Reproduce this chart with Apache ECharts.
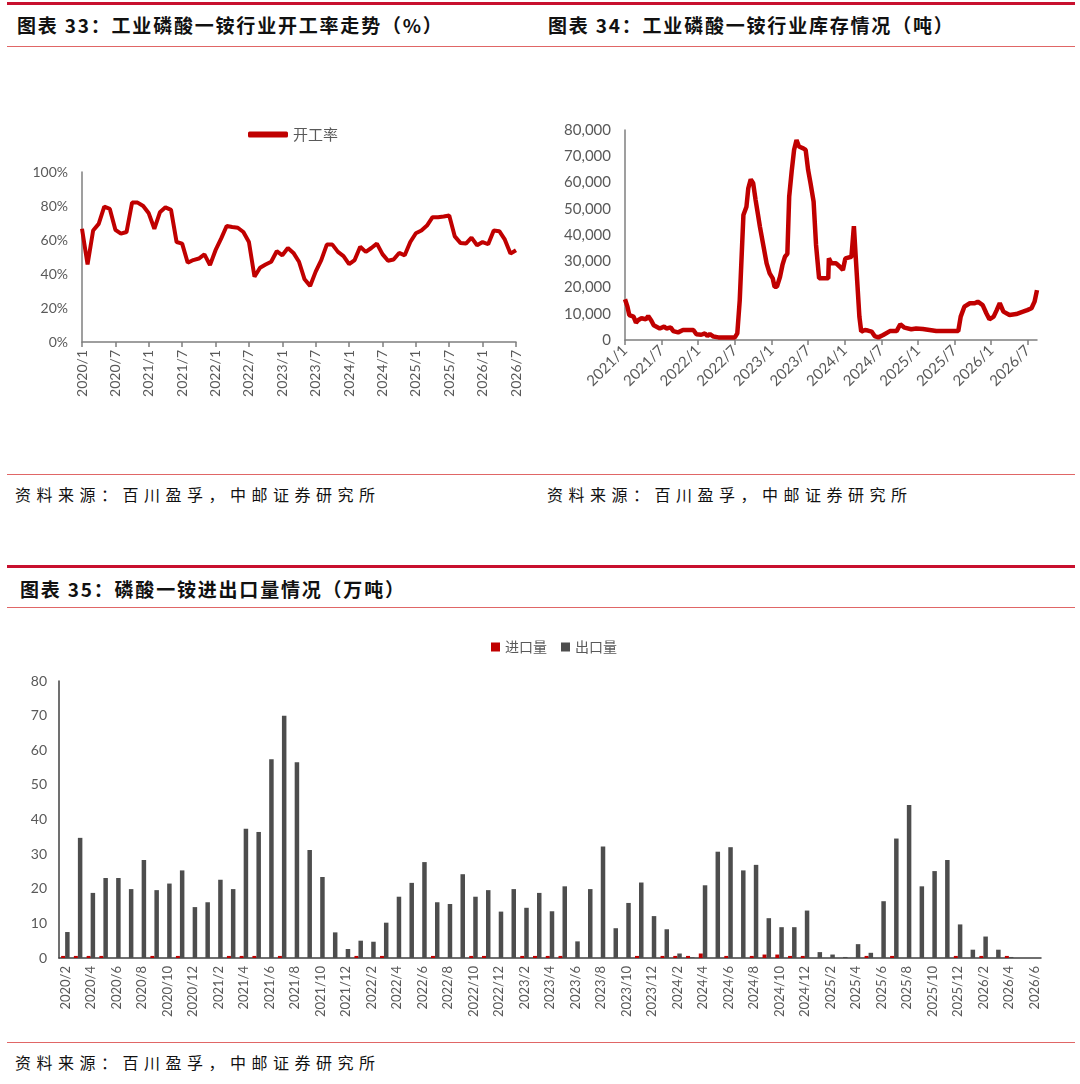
<!DOCTYPE html>
<html>
<head>
<meta charset="utf-8">
<script src="https://cdn.jsdelivr.net/npm/echarts@6/dist/echarts.min.js"></script>
<style>
  html, body { margin: 0; padding: 0; background: #fff; }
  body { width: 1080px; height: 1084px; position: relative; overflow: hidden; }
  .line { position: absolute; left: 7px; width: 1068px; background: #d23a3a; }
  .thick { height: 3px; background: #c8102e; }
  .thin { height: 1px; background: #e06666; }
  .title { position: absolute; font-family: "Noto Sans CJK SC", sans-serif; font-weight: bold;
           font-size: 19px; letter-spacing: 1.8px; color: #111; white-space: nowrap; }
  .src { position: absolute; font-family: "Noto Sans CJK SC", sans-serif; font-size: 16px;
         letter-spacing: 5.5px; color: #111; white-space: nowrap; }
  .chart { position: absolute; }
</style>
</head>
<body>
<div class="line thick" style="top:2px"></div>
<div class="title" style="left:17px; top:11px">图表 33：工业磷酸一铵行业开工率走势（%）</div>
<div class="title" style="left:548px; top:11px">图表 34：工业磷酸一铵行业库存情况（吨）</div>
<div class="line thin" style="top:46px"></div>

<div id="rate" class="chart" style="left:0; top:100px; width:540px; height:340px"></div>
<div id="stock" class="chart" style="left:540px; top:100px; width:540px; height:340px"></div>

<div class="line thin" style="top:474px"></div>
<div class="src" style="left:15px; top:482px">资料来源：百川盈孚，中邮证券研究所</div>
<div class="src" style="left:547px; top:482px">资料来源：百川盈孚，中邮证券研究所</div>

<div class="line thick" style="top:565px"></div>
<div class="title" style="left:20px; top:575px">图表 35：磷酸一铵进出口量情况（万吨）</div>
<div class="line thin" style="top:607px"></div>

<div id="trade" class="chart" style="left:0; top:615px; width:1080px; height:425px"></div>

<div class="line thin" style="top:1042px"></div>
<div class="src" style="left:15px; top:1050px">资料来源：百川盈孚，中邮证券研究所</div>

<script>
// ---- data ----
// 开工率, monthly 2020/1 .. 2026/7 (%)
const rateMonths = [];
for (let y = 2020; y <= 2026; y++) for (let m = 1; m <= 12; m++) if (!(y === 2026 && m > 7)) rateMonths.push(y + '/' + m);
const rateValues = [
  66.6, 45.6, 65.6, 69.5, 79.6, 78.3, 66, 63.7, 64.7, 82, 82, 80,
  75.7, 66.6, 76.3, 79.2, 77.7, 58.8, 57.9, 46.6, 48.2, 49.1, 51.5, 45.2,
  54, 60.8, 68.2, 67.6, 67.2, 64.7, 58.8, 38.4, 43.7, 45.6, 47.2, 53.4,
  51, 55.3, 52.4, 47.2, 36.9, 33, 41.4, 48.2, 57.3, 57.3, 53, 50.5,
  45.8, 48.2, 56, 53, 55.3, 57.9, 51.7, 47.8, 48.5, 52.4, 51, 58.8,
  64, 65.6, 68.5, 73.4, 73.4, 73.8, 74.4, 62.1, 58.3, 57.9, 61.4, 56.9,
  58.8, 57.5, 65.6, 65.2, 60.2, 52, 54
];

// 库存, month offset since 2021/1 (fractional) and tons
const stockMonth = [
  0, 0.4, 0.7, 1.4, 1.8, 2.2, 2.7, 3.4, 3.8, 4.3, 4.7, 5.7, 6.4, 6.8, 7.5, 7.9, 8.7, 9.5, 10.4, 11.2,
  11.7, 12.5, 13.1, 13.5, 13.9, 14.5, 15.3, 16.1, 18, 18.4, 18.8, 19.4, 19.9, 20.2, 20.6, 21, 21.4, 21.8, 22.1, 22.4,
  22.7, 23.2, 23.7, 24.2, 24.5, 24.9, 25.4, 25.8, 26.2, 26.6, 26.9, 27.3, 27.7, 28.1, 28.5, 29.2, 29.6, 30, 30.4, 30.9,
  31.3, 31.6, 31.8, 33.3, 33.4, 33.8, 34.6, 35.2, 35.7, 36.1, 37.1, 37.5, 37.8, 38.4, 38.7, 39.3, 39.8, 40.4, 40.9, 41.5,
  42.3, 43.4, 44.5, 45.1, 45.8, 46.9, 47.7, 48.8, 49.9, 51, 54.6, 55, 55.6, 56.5, 57.3, 57.8, 58.6, 59.2, 59.7, 60.4,
  60.9, 61.4, 62, 63, 64.1, 65.2, 65.9, 66.6, 67.1, 67.5
];
const stockValue = [
  15500, 12700, 9500, 8900, 6600, 7600, 8300, 7900, 9100, 7400, 5600, 4400, 5100, 4400, 4800, 3400, 2900, 3800, 3800, 3800,
  2200, 2000, 2500, 1500, 2300, 1300, 1000, 1000, 1000, 2500, 15200, 47600, 50800, 57800, 61200, 59700, 53300, 47600, 43200, 43200,
  35600, 29200, 25400, 23500, 20300, 20300, 24100, 28600, 31700, 32800, 54600, 64100, 72400, 76200, 73700, 73000, 72400, 64800, 59700, 52700,
  36200, 35800, 23500, 23500, 31100, 29200, 29200, 27900, 26700, 31100, 31700, 43400, 31700, 8900, 3200, 3800, 3600, 3200, 1500, 1000,
  1900, 3400, 3400, 6000, 4700, 4100, 4400, 4200, 3800, 3400, 3400, 8900, 12700, 14000, 14000, 14600, 13300, 10200, 7900, 8900,
  11400, 14000, 10800, 9500, 9900, 10800, 11400, 12100, 14600, 19000
];

// 进出口量, monthly 2020/2 .. 2026/6 (万吨)
const tradeMonths = [];
for (let y = 2020; y <= 2026; y++) for (let m = 1; m <= 12; m++) if (!(y === 2020 && m < 2) && !(y === 2026 && m > 6)) tradeMonths.push(y + '/' + m);
const exportVol = [
  7.5, 34.7, 18.8, 23.1, 23.1, 19.9, 28.3, 19.6, 21.5, 25.3,
  14.7, 16.1, 22.6, 19.9, 37.3, 36.4, 57.4, 70, 56.5, 31.2,
  23.4, 7.4, 2.6, 5, 4.7, 10.2, 17.7, 21.7, 27.7, 16.1,
  15.6, 24.2, 17.7, 19.6, 13.4, 19.9, 14.5, 18.8, 13.5, 20.7,
  4.8, 19.9, 32.2, 8.6, 15.9, 21.8, 12.1, 8.3, 1.3, 0.2,
  21, 30.7, 32, 25.3, 26.9, 11.5, 8.9, 8.9, 13.7, 1.7,
  1, 0.3, 4, 1.5, 16.4, 34.5, 44.2, 20.7, 25.1, 28.3,
  9.7, 2.4, 6.2, 2.4, 0.3, 0, 0
];
const importVol = [
  0.6, 0.6, 0.6, 0.6, 0, 0, 0, 0.6, 0, 0.6,
  0, 0, 0, 0.6, 0.6, 0.6, 0, 0.6, 0, 0,
  0, 0, 0, 0.6, 0, 0.6, 0, 0, 0, 0.6,
  0, 0, 0.6, 0.6, 0, 0, 0.6, 0.6, 0.6, 0.6,
  0, 0, 0, 0, 0, 0.6, 0, 0.6, 0.6, 0.6,
  1.3, 0, 0.6, 0, 0.6, 1, 1, 0.6, 0.6, 0,
  0, 0, 0, 0.6, 0, 0.6, 0, 0, 0, 0,
  0.6, 0, 0.6, 0, 0.6, 0, 0
];

// ---- shared styles ----
const GRAY = '#595959';
const NUM_FONT = 'Lato, "Noto Sans CJK SC", sans-serif';
const CJK_FONT = '"Noto Sans CJK SC", sans-serif';
const axisLine = { lineStyle: { color: '#7f7f7f', width: 1.5 } };
const tickStyle = { lineStyle: { color: '#7f7f7f', width: 1.5 }, length: 5 };
const numLabel = { color: GRAY, fontFamily: NUM_FONT, fontSize: 14 };

// ---- 开工率 ----
echarts.init(document.getElementById('rate')).setOption({
  animation: false,
  legend: {
    left: 243, top: 22, icon: 'roundRect', itemWidth: 40, itemHeight: 6, itemGap: 4,
    textStyle: { color: GRAY, fontFamily: CJK_FONT, fontSize: 15 }
  },
  grid: { left: 82, right: 24, top: 72, bottom: 98 },
  xAxis: {
    type: 'category', data: rateMonths, boundaryGap: false,
    axisLine, axisTick: { ...tickStyle, interval: 5 },
    axisLabel: { ...numLabel, interval: 5, rotate: 90, margin: 8 }
  },
  yAxis: {
    type: 'value', min: 0, max: 100, interval: 20,
    axisLine: { show: true, ...axisLine }, axisTick: { show: false }, splitLine: { show: false },
    axisLabel: { ...numLabel, formatter: '{value}%', margin: 14 }
  },
  series: [{
    name: '开工率', type: 'line', data: rateValues, showSymbol: false,
    lineStyle: { color: '#c00000', width: 4 }, itemStyle: { color: '#c00000' }
  }]
});

// ---- 库存 ----
const monthLabel = v => (2021 + Math.floor(v / 12)) + '/' + (v % 12 + 1);
const stockTicks = [];
for (let v = 0; v <= 66; v += 6) stockTicks.push(v);
echarts.init(document.getElementById('stock')).setOption({
  animation: false,
  grid: { left: 85, right: 43, top: 30, bottom: 100 },
  xAxis: {
    type: 'value', min: 0, max: 67.5,
    axisLine, splitLine: { show: false },
    axisTick: { ...tickStyle, customValues: stockTicks },
    axisLabel: { ...numLabel, fontSize: 15, rotate: 45, margin: 8, customValues: stockTicks, formatter: monthLabel }
  },
  yAxis: {
    type: 'value', min: 0, max: 80000, interval: 10000,
    axisLine: { show: true, ...axisLine }, axisTick: { show: false }, splitLine: { show: false },
    axisLabel: { ...numLabel, fontSize: 15, margin: 14, formatter: v => v.toLocaleString('en-US') }
  },
  series: [{
    type: 'line', data: stockMonth.map((m, i) => [m, stockValue[i]]), showSymbol: false,
    lineStyle: { color: '#c00000', width: 4.5 }
  }]
});

// ---- 进出口量 ----
echarts.init(document.getElementById('trade')).setOption({
  animation: false,
  legend: {
    top: 20, left: 486, icon: 'rect', itemWidth: 9, itemHeight: 9, itemGap: 14,
    textStyle: { color: GRAY, fontFamily: CJK_FONT, fontSize: 14 }
  },
  grid: { left: 59, right: 39, top: 66, bottom: 82 },
  xAxis: {
    type: 'category', data: tradeMonths,
    axisLine: { lineStyle: { color: '#404040', width: 1.5 } },
    axisTick: { lineStyle: { color: '#404040', width: 1.5 }, length: 5, interval: 1 },
    axisLabel: { ...numLabel, fontSize: 13, interval: 1, rotate: 90, margin: 8 }
  },
  yAxis: {
    type: 'value', min: 0, max: 80, interval: 10,
    axisLine: { show: true, lineStyle: { color: '#404040', width: 1.5 } },
    axisTick: { show: false }, splitLine: { show: false },
    axisLabel: { ...numLabel, margin: 12 }
  },
  series: [
    { name: '进口量', type: 'bar', data: importVol, barWidth: 4, barGap: '0%', itemStyle: { color: '#c00000' } },
    { name: '出口量', type: 'bar', data: exportVol, barWidth: 4.5, barGap: '0%', itemStyle: { color: '#4d4d4d' } }
  ]
});
</script>
</body>
</html>
